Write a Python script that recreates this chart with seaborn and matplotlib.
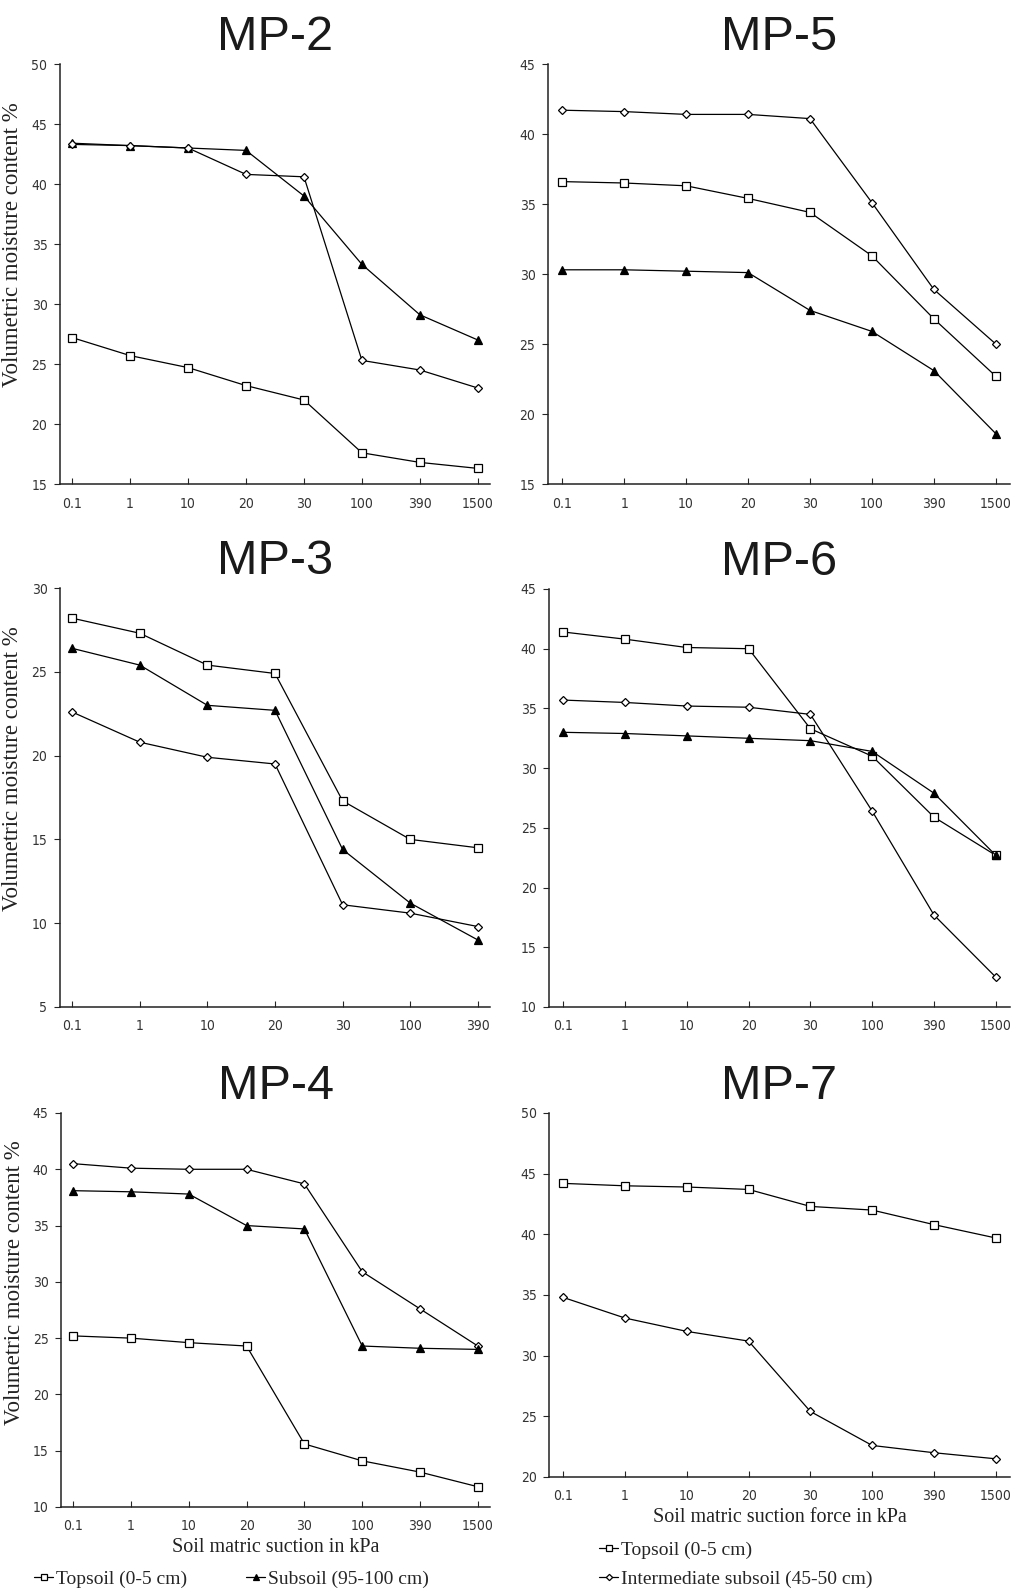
import matplotlib
matplotlib.use("Agg")
import matplotlib.pyplot as plt
import seaborn as sns
from matplotlib.lines import Line2D

suction = ["0.1", "1", "10", "20", "30", "100", "390", "1500"]
suction_mp3 = ["0.1", "1", "10", "20", "30", "100", "390"]

# MP-2
mp2_top = [27.2, 25.7, 24.7, 23.2, 22.0, 17.6, 16.8, 16.3]
mp2_sub = [43.4, 43.2, 43.0, 42.8, 39.0, 33.3, 29.1, 27.0]
mp2_int = [43.3, 43.2, 43.0, 40.8, 40.6, 25.3, 24.5, 23.0]
# MP-5
mp5_int = [41.7, 41.6, 41.4, 41.4, 41.1, 35.1, 28.9, 25.0]
mp5_top = [36.6, 36.5, 36.3, 35.4, 34.4, 31.3, 26.8, 22.7]
mp5_sub = [30.3, 30.3, 30.2, 30.1, 27.4, 25.9, 23.1, 18.6]
# MP-3
mp3_top = [28.2, 27.3, 25.4, 24.9, 17.3, 15.0, 14.5]
mp3_sub = [26.4, 25.4, 23.0, 22.7, 14.4, 11.2, 9.0]
mp3_int = [22.6, 20.8, 19.9, 19.5, 11.1, 10.6, 9.8]
# MP-6
mp6_top = [41.4, 40.8, 40.1, 40.0, 33.3, 31.0, 25.9, 22.7]
mp6_int = [35.7, 35.5, 35.2, 35.1, 34.5, 26.4, 17.7, 12.5]
mp6_sub = [33.0, 32.9, 32.7, 32.5, 32.3, 31.4, 27.9, 22.7]
# MP-4
mp4_int = [40.5, 40.1, 40.0, 40.0, 38.7, 30.9, 27.6, 24.3]
mp4_sub = [38.1, 38.0, 37.8, 35.0, 34.7, 24.3, 24.1, 24.0]
mp4_top = [25.2, 25.0, 24.6, 24.3, 15.6, 14.1, 13.1, 11.8]
# MP-7
mp7_top = [44.2, 44.0, 43.9, 43.7, 42.3, 42.0, 40.8, 39.7]
mp7_int = [34.8, 33.1, 32.0, 31.2, 25.4, 22.6, 22.0, 21.5]

sns.set_style("ticks")
plt.rcParams['font.family'] = ['DejaVu Sans']
plt.rcParams['font.stretch'] = 'condensed'

W, H = 1016, 1594
fig = plt.figure(figsize=(W / 100, H / 100), dpi=100)

styles = {
    "top": dict(marker="s", mfc="white", ms=5.5),
    "sub": dict(marker="^", mfc="black", ms=5.5),
    "int": dict(marker="D", mfc="white", ms=4.2),
}

def make_ax(left, top, right, bottom):
    return fig.add_axes([left / W, 1 - bottom / H, (right - left) / W, (bottom - top) / H])

def panel(ax, title, x, series, ylim, yticks, pad=0.21):
    for kind, vals in series:
        st = styles[kind]
        sns.lineplot(x=x, y=vals, ax=ax, sort=False, color="black", lw=0.9,
                     marker=st["marker"], ms=st["ms"], mfc=st["mfc"], mec="black",
                     mew=0.9, legend=False)
    ax.set_xlim(-pad, len(x) - 1 + pad)
    ax.set_ylim(*ylim)
    ax.set_yticks(yticks)
    sns.despine(ax=ax)
    for s in ["left", "bottom"]:
        ax.spines[s].set_linewidth(1.1)
        ax.spines[s].set_color("#222222")
    ax.tick_params(axis="y", direction="out", length=4, width=0.8, pad=5,
                   labelsize=10, labelcolor="#333333")
    ax.tick_params(axis="x", direction="in", length=4, width=0.8, pad=9,
                   labelsize=10, labelcolor="#333333")
    ax.set_xlabel("")
    ax.set_ylabel("")
    ax.set_title(title, fontsize=35, family=["Liberation Sans", "DejaVu Sans"],
                 stretch="normal", color="#1a1a1a", pad=10)

serif = dict(family=["Liberation Serif", "DejaVu Serif"], stretch="normal", color="#222222")

def ylabel(ax):
    ax.set_ylabel("Volumetric moisture content %", fontsize=16.5, **serif)
    ax.yaxis.set_label_coords(-0.085, 0.57)

ax2 = make_ax(60, 64, 490, 484)
panel(ax2, "MP-2", suction, [("top", mp2_top), ("sub", mp2_sub), ("int", mp2_int)],
      (15, 50), range(15, 51, 5))
ylabel(ax2)

ax5 = make_ax(548, 64, 1010, 484)
panel(ax5, "MP-5", suction, [("int", mp5_int), ("top", mp5_top), ("sub", mp5_sub)],
      (15, 45), range(15, 46, 5), pad=0.23)

ax3 = make_ax(60, 588, 490, 1007)
panel(ax3, "MP-3", suction_mp3, [("top", mp3_top), ("sub", mp3_sub), ("int", mp3_int)],
      (5, 30), range(5, 31, 5), pad=0.18)
ylabel(ax3)

ax6 = make_ax(549, 589, 1010, 1007)
panel(ax6, "MP-6", suction, [("top", mp6_top), ("int", mp6_int), ("sub", mp6_sub)],
      (10, 45), range(10, 46, 5), pad=0.23)

ax4 = make_ax(61, 1113, 490, 1507)
panel(ax4, "MP-4", suction, [("int", mp4_int), ("sub", mp4_sub), ("top", mp4_top)],
      (10, 45), range(10, 46, 5))
ylabel(ax4)
ax4.set_xlabel("Soil matric suction in kPa", labelpad=3, fontsize=14.5, **serif)

ax7 = make_ax(549, 1113, 1010, 1477)
panel(ax7, "MP-7", suction, [("top", mp7_top), ("int", mp7_int)],
      (20, 50), range(20, 51, 5), pad=0.23)
ax7.set_xlabel("Soil matric suction force in kPa", labelpad=3, fontsize=14.5, **serif)

def handle(kind):
    st = styles[kind]
    return Line2D([], [], color="black", lw=0.9, marker=st["marker"], ms=st["ms"] - 1,
                  mfc=st["mfc"], mec="black", mew=0.9)

leg_font = {"family": ["Liberation Serif", "DejaVu Serif"], "size": 14, "stretch": "normal"}

def add_entry(kind, text, x, y):
    fig.legend([handle(kind)], [text], loc="center left",
               bbox_to_anchor=(x / W, 1 - y / H), frameon=False, prop=leg_font,
               handlelength=1.0, handletextpad=0.15, borderpad=0, borderaxespad=0)

add_entry("top", "Topsoil (0-5 cm)", 34, 1579)
add_entry("sub", "Subsoil (95-100 cm)", 246, 1579)
add_entry("top", "Topsoil (0-5 cm)", 599, 1550)
add_entry("int", "Intermediate subsoil (45-50 cm)", 599, 1579)

fig.savefig("out.png", dpi=100, facecolor="white")
